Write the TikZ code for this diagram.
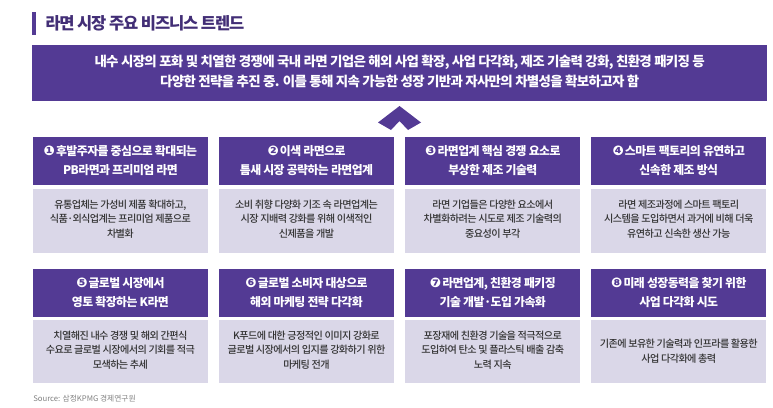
\documentclass[tikz,border=0pt]{standalone}
\usepackage{fontspec}
\setmainfont{Noto Sans CJK KR}
\newfontfamily\krmed{Noto Sans CJK KR Medium}
\newfontfamily\numfont{DejaVu Sans}
\definecolor{vio}{HTML}{533A94}
\definecolor{pale}{HTML}{DAD7E8}
\definecolor{ink}{HTML}{333333}
\newcommand{\fs}[2]{\fontsize{#1}{#2}\selectfont}
\tikzset{
  x=0.75pt,y=-0.75pt,
  headbox/.style={fill=vio,draw=none,minimum width=131.5pt,minimum height=36pt,inner sep=0pt,align=center,text=white,font=\fs{8.9}{14.25}\bfseries\addfontfeature{LetterSpace=-4.5},text height=22pt,text depth=2pt},
  bodybox/.style={fill=pale,draw=none,minimum width=131.5pt,inner sep=0pt,align=center,text=ink,font=\fs{7.6}{11}\krmed\addfontfeature{LetterSpace=-6},text height=27pt,text depth=2pt},
  bodyupper/.style={bodybox,minimum height=47.7pt},
  bodylower/.style={bodybox,minimum height=47.5pt},
  bannerbox/.style={fill=vio,draw=none,minimum width=551pt,minimum height=42pt,inner sep=0pt,align=center,text=white,font=\fs{10.1}{15}\bfseries\addfontfeature{LetterSpace=-5},text height=23pt,text depth=2pt},
  titletext/.style={anchor=west,inner sep=0pt,text=vio!80!black,font=\fs{12.4}{15}\bfseries\addfontfeature{LetterSpace=-7}},
  sourcetext/.style={anchor=west,inner sep=0pt,text=gray,font=\fs{5.8}{7}},
}
\newcommand{\cn}[1]{{\numfont\fontsize{10}{10}\selectfont\symbol{#1}}\kern0.8pt}
\begin{document}
\begin{tikzpicture}
\useasboundingbox (0,0) rectangle (773,407);
\fill[vio] (32,12) rectangle (36,35);
\node[titletext] (title) at (45,23) {라면 시장 주요 비즈니스 트렌드};
\node[bannerbox] (banner) at (399.7,72.5) {내수 시장의 포화 및 치열한 경쟁에 국내 라면 기업은 해외 사업 확장, 사업 다각화, 제조 기술력 강화, 친환경 패키징 등\\다양한 전략을 추진 중. 이를 통해 지속 가능한 성장 기반과 자사만의 차별성을 확보하고자 함};
\fill[vio] (399.5,106) -- (421,122.5) -- (408,130) -- (399.5,121) -- (391,130) -- (378,122.5) -- cycle;

\node[headbox] (h1) at (120.4,161.3) {\cn{"2776}후발주자를 중심으로 확대되는\\PB라면과 프리미엄 라면};
\node[headbox] (h2) at (306.5,161.3) {\cn{"2777}이색 라면으로\\틈새 시장 공략하는 라면업계};
\node[headbox] (h3) at (492.8,161.3) {\cn{"2778}라면업계 핵심 경쟁 요소로\\부상한 제조 기술력};
\node[headbox] (h4) at (678.8,161.3) {\cn{"2779}스마트 팩토리의 유연하고\\신속한 제조 방식};
\node[bodyupper] (b1) at (120.4,220.8) {유통업체는 가성비 제품 확대하고,\\식품·외식업계는 프리미엄 제품으로\\차별화};
\node[bodyupper] (b2) at (306.5,220.8) {소비 취향 다양화 기조 속 라면업계는\\시장 지배력 강화를 위해 이색적인\\신제품을 개발};
\node[bodyupper] (b3) at (492.8,220.8) {라면 기업들은 다양한 요소에서\\차별화하려는 시도로 제조 기술력의\\중요성이 부각};
\node[bodyupper] (b4) at (678.8,220.8) {라면 제조과정에 스마트 팩토리\\시스템을 도입하면서 과거에 비해 더욱\\유연하고 신속한 생산 가능};

\node[headbox] (h5) at (120.4,293.2) {\cn{"277A}글로벌 시장에서\\영토 확장하는 K라면};
\node[headbox] (h6) at (306.5,293.2) {\cn{"277B}글로벌 소비자 대상으로\\해외 마케팅 전략 다각화};
\node[headbox] (h7) at (492.8,293.2) {\cn{"277C}라면업계, 친환경 패키징\\기술 개발·도입 가속화};
\node[headbox] (h8) at (678.8,293.2) {\cn{"277D}미래 성장동력을 찾기 위한\\사업 다각화 시도};
\node[bodylower] (b5) at (120.4,351.7) {치열해진 내수 경쟁 및 해외 간편식\\수요로 글로벌 시장에서의 기회를 적극\\모색하는 추세};
\node[bodylower] (b6) at (306.5,351.7) {K푸드에 대한 긍정적인 이미지 강화로\\글로벌 시장에서의 입지를 강화하기 위한\\마케팅 전개};
\node[bodylower] (b7) at (492.8,351.7) {포장재에 친환경 기술을 적극적으로\\도입하여 탄소 및 플라스틱 배출 감축\\노력 지속};
\node[bodylower,text height=18pt] (b8) at (678.8,351.7) {기존에 보유한 기술력과 인프라를 활용한\\사업 다각화에 총력};
\node[sourcetext] (source) at (33,399) {Source: 삼정KPMG 경제연구원};
\end{tikzpicture}
\end{document}
